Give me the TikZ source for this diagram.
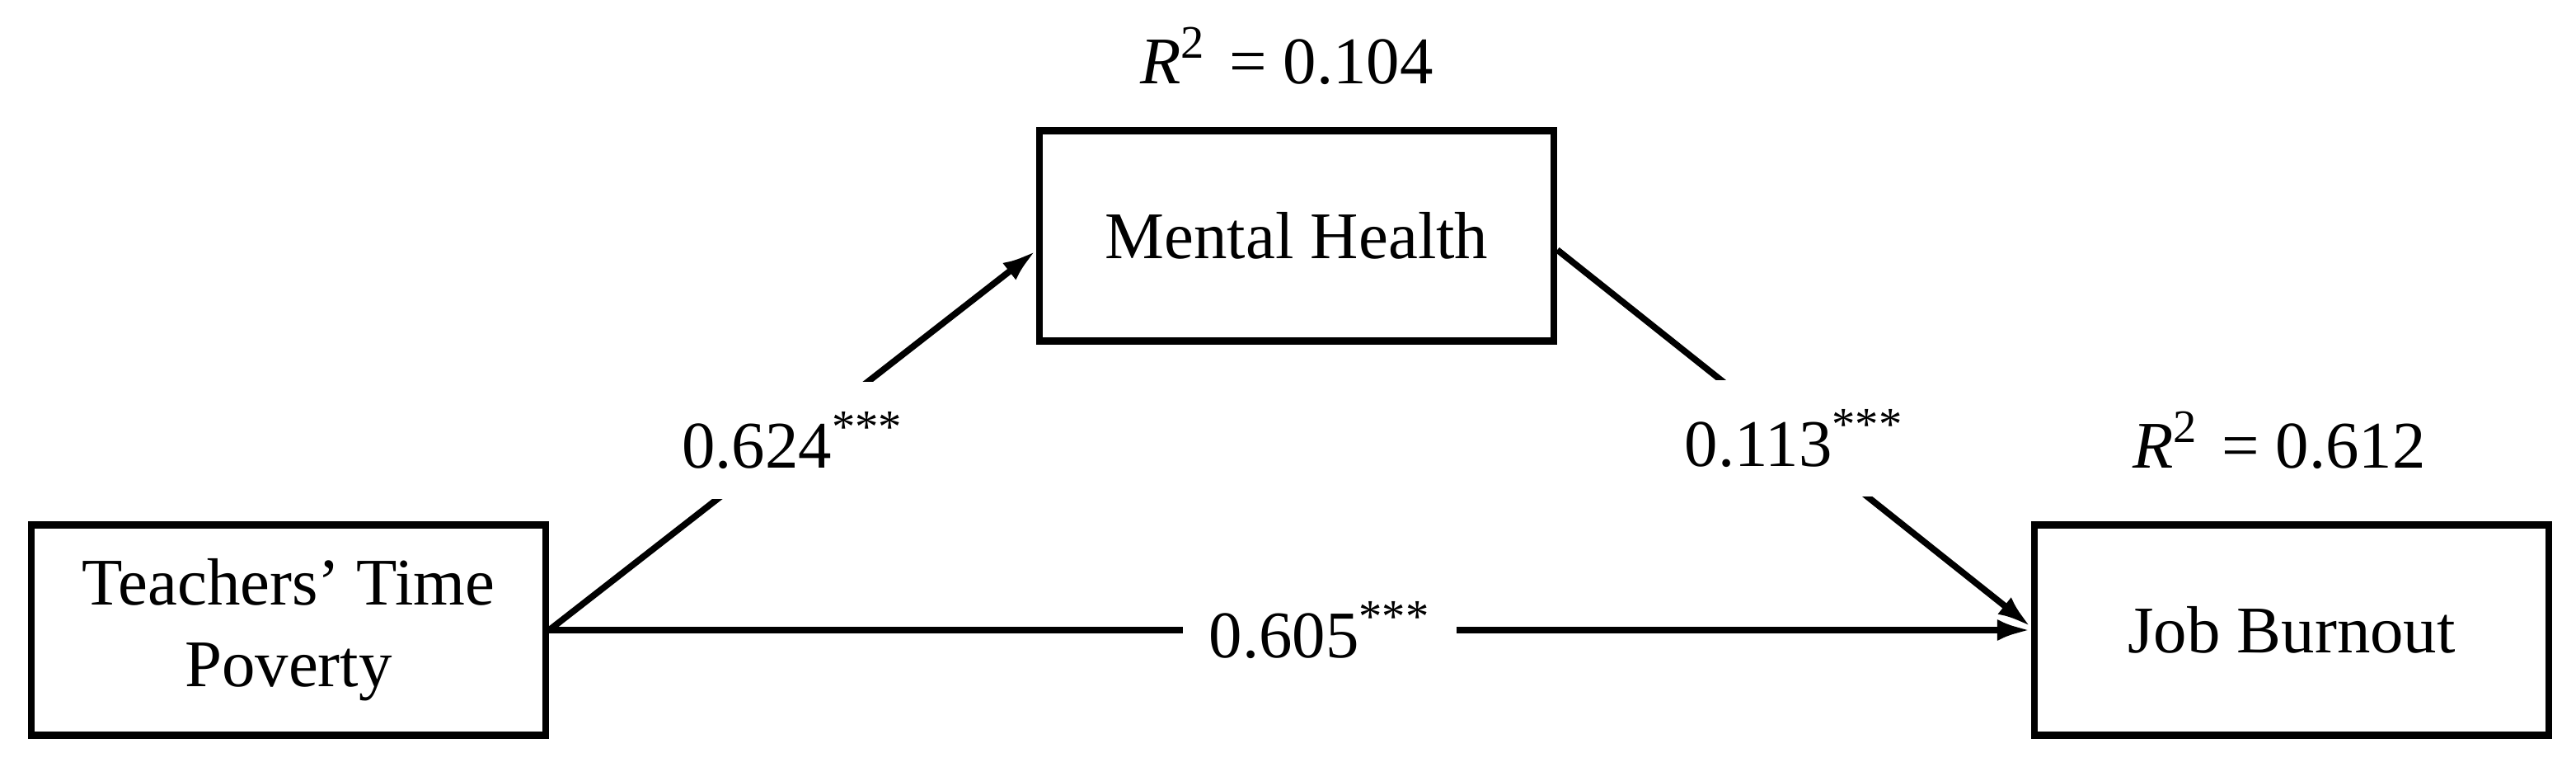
\documentclass[tikz,border=0pt]{standalone}
\usepackage{fontspec}
\setmainfont{Liberation Serif}
\usetikzlibrary{arrows.meta,calc}
\begin{document}
\begin{tikzpicture}[
  box/.style={draw, line width=2.4pt, minimum width=6.24cm, minimum height=2.55cm, align=center, inner sep=0pt},
  conn/.style={line width=2.2pt, -{Latex[length=0.41cm, width=0.26cm]}},
  coef/.style={fill=white, inner xsep=0.32cm, inner ysep=0.36cm},
  rlabel/.style={anchor=base, inner sep=0pt},
  font=\fontsize{23}{28.2}\selectfont
]
\useasboundingbox (0,0) rectangle (31.25,9.29);
\node[box] (tp) at (3.50,1.65) {Teachers’ Time\\Poverty};
\node[box] (mh) at (15.73,6.43) {Mental Health};
\node[box] (jb) at (27.80,1.65) {Job Burnout};
\node[rlabel] (r1) at (15.61,8.27) {\textit{R}\textsuperscript{2}\hspace{0.35em}= 0.104};
\node[rlabel] (r2) at (27.65,3.61) {\textit{R}\textsuperscript{2}\hspace{0.35em}= 0.612};
\coordinate (mhin) at ($(mh.west)+(0,-0.18)$);
\coordinate (mhout) at ($(mh.east)+(0,-0.17)$);
\coordinate (jbin) at ($(jb.west)+(0,0.04)$);
\draw[conn] (tp.east) -- (mhin) node[coef, pos=0.5] (a) {0.624\textsuperscript{***}};
\draw[conn] (mhout) -- (jbin) node[coef, pos=0.5] (b) {0.113\textsuperscript{***}};
\draw[conn] (tp.east) -- (jb.west) node[coef, pos=0.52] (c) {0.605\textsuperscript{***}};
\end{tikzpicture}
\end{document}
